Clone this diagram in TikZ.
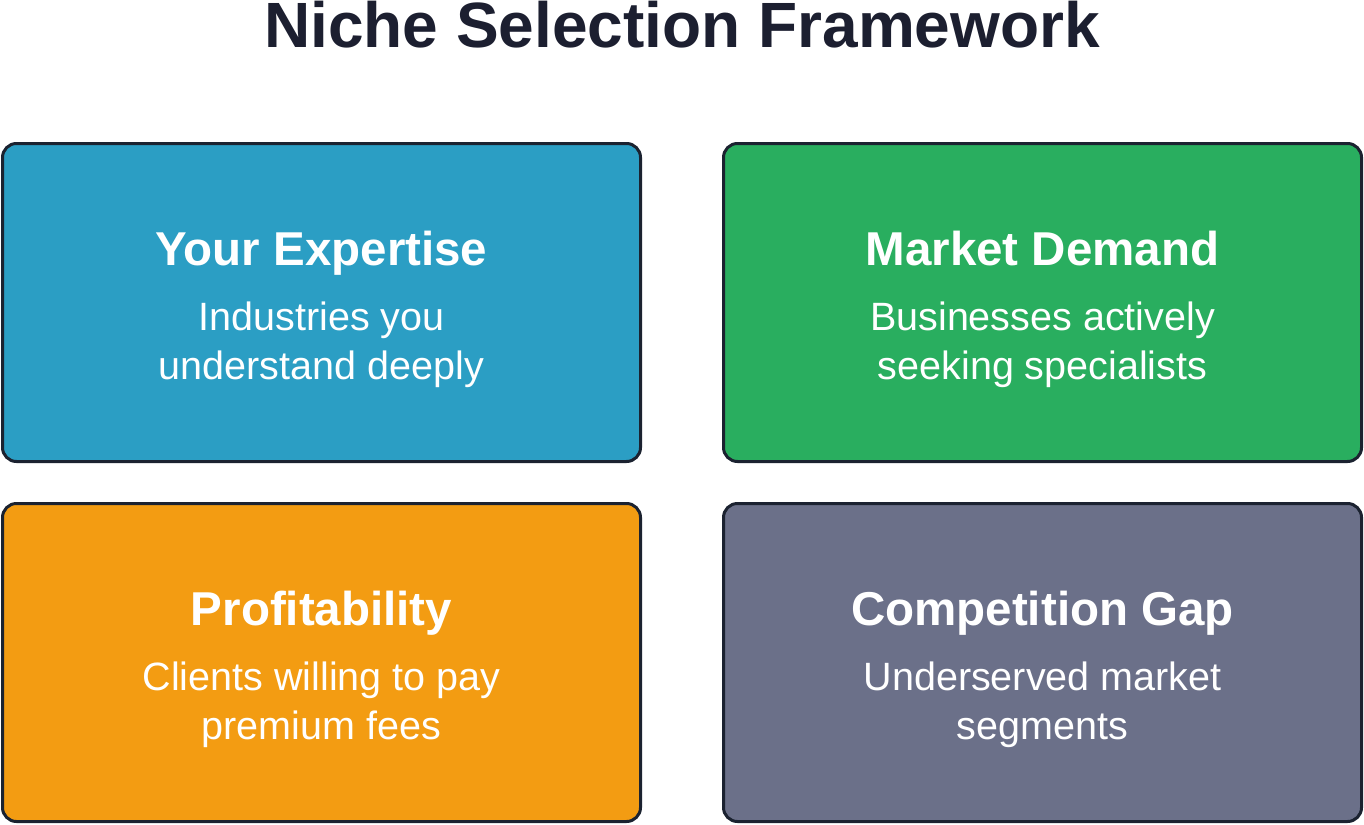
\documentclass[tikz,border=0pt]{standalone}
\usepackage{fontspec}
\setmainfont{Liberation Sans}
\usepackage{xcolor}
\definecolor{titleink}{HTML}{1C1F30}
\definecolor{edgeink}{HTML}{1B2230}
\definecolor{expblue}{HTML}{2B9EC4}
\definecolor{demgreen}{HTML}{29AE5F}
\definecolor{proforange}{HTML}{F39C12}
\definecolor{gapgray}{HTML}{6B7089}
\newcommand{\headfont}{\fontsize{47.5}{56}\selectfont\bfseries}
\newcommand{\bodyfont}{\fontsize{39.5}{49}\selectfont}

\begin{document}
\begin{tikzpicture}[x=1pt,y=-1pt,
    card/.style={draw=edgeink, line width=3pt, rounded corners=14pt},
    head/.style={anchor=base, text=white, inner sep=0pt, font=\headfont},
    body/.style={anchor=base, text=white, inner sep=0pt, font=\bodyfont}]
        \useasboundingbox (0,0) rectangle (1364,824);

        % title
        \node[anchor=base, inner sep=0pt, text=titleink, font=\fontsize{64}{70}\selectfont\bfseries] (title) at (682,48) {Niche Selection Framework};

        % cards
        \draw[card, fill=expblue] (2.5,143.5) rectangle (640.5,461.5);
        \draw[card, fill=demgreen] (723.5,143.5) rectangle (1361.5,461.5);
        \draw[card, fill=proforange] (2.5,503.5) rectangle (640.5,821.5);
        \draw[card, fill=gapgray] (723.5,503.5) rectangle (1361.5,821.5);

        % your expertise
        \node[head] (expertise) at (321.5,265) {Your Expertise};
        \node[body] (expertiseA) at (321.5,330) {Industries you};
        \node[body] (expertiseB) at (321.5,379) {understand deeply};

        % market demand
        \node[head] (demand) at (1042.5,265) {Market Demand};
        \node[body] (demandA) at (1042.5,330) {Businesses actively};
        \node[body] (demandB) at (1042.5,379) {seeking specialists};

        % profitability
        \node[head] (profit) at (321.5,625) {Profitability};
        \node[body] (profitA) at (321.5,690) {Clients willing to pay};
        \node[body] (profitB) at (321.5,739) {premium fees};

        % competition gap
        \node[head] (gap) at (1042.5,625) {Competition Gap};
        \node[body] (gapA) at (1042.5,690) {Underserved market};
        \node[body] (gapB) at (1042.5,739) {segments};

    \end{tikzpicture}
\end{document}
